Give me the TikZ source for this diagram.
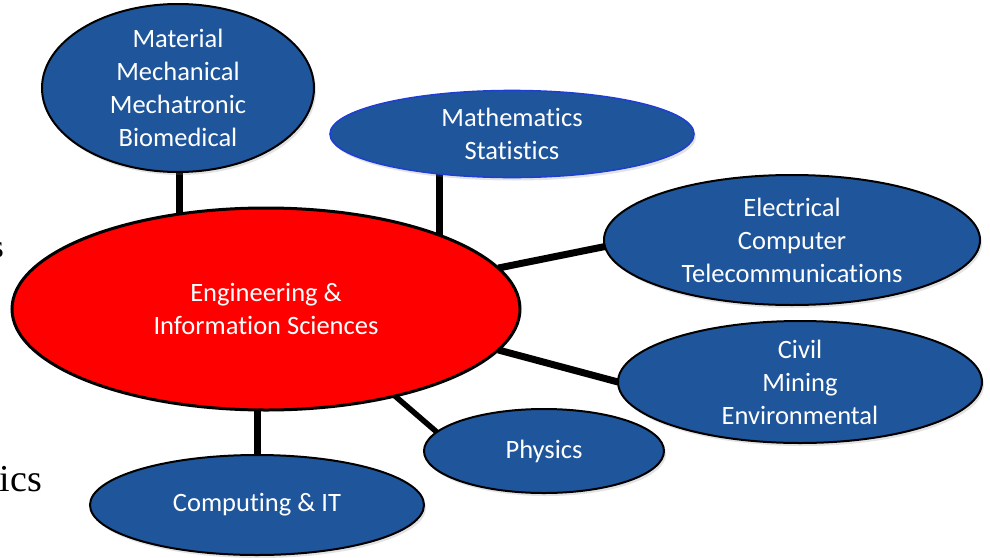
\documentclass[tikz,border=0pt]{standalone}
\usepackage{fontspec}
\setmainfont{Carlito}[Ligatures=CommonOff]
\newfontfamily\serifface{Liberation Serif}
\usetikzlibrary{shapes.geometric,shadows}
\definecolor{nodeblue}{HTML}{1F559B}
\definecolor{rimblue}{HTML}{1F3FD0}
\pgfdeclarelayer{background}
\pgfdeclarelayer{canvas}
\pgfsetlayers{canvas,background,main}
\begin{document}
\begin{tikzpicture}[x=1pt,y=-1pt,
  blob/.style={ellipse, draw=black, line width=2pt, fill=nodeblue, inner sep=0pt, outer sep=0pt,
    drop shadow={opacity=0.22, shadow xshift=2pt, shadow yshift=-3pt}},
  hub/.style={ellipse, draw=black, line width=3pt, fill=red, inner sep=0pt, outer sep=0pt},
  lbl/.style={text=white, align=center, inner sep=0pt, font=\fontsize{26.5}{33}\selectfont},
  link/.style={line width=7pt, black},
  frag/.style={inner sep=0pt, anchor=base east, text=black}]
\useasboundingbox (0,0) rectangle (990,557);
\begin{pgfonlayer}{canvas}
  \fill[white] (0,0) rectangle (990,557);
\end{pgfonlayer}

\node[hub, minimum width=508pt, minimum height=202pt,
  label={[lbl]center:Engineering \&\\Information Sciences}] (red) at (266,309) {};
\node[blob, minimum width=272pt, minimum height=168pt,
  label={[lbl]center:Material\\Mechanical\\Mechatronic\\Biomedical}] (mat) at (178,88) {};
\node[blob, draw=rimblue, line width=1.6pt, minimum width=364pt, minimum height=87pt,
  label={[lbl]center:Mathematics\\Statistics}] (math) at (512,134) {};
\node[blob, minimum width=376pt, minimum height=130pt,
  label={[lbl]center:Electrical\\Computer\\Telecommunications}] (elec) at (792,240) {};
\node[blob, minimum width=364pt, minimum height=122pt,
  label={[lbl]center:Civil\\Mining\\Environmental}] (civil) at (800,382) {};
\node[blob, minimum width=240pt, minimum height=84pt,
  label={[lbl]center:Physics}] (phys) at (544,451) {};
\node[blob, minimum width=334pt, minimum height=100pt,
  label={[lbl]center:Computing \& IT}] (comp) at (257,505) {};

\begin{pgfonlayer}{background}
  \draw[link] (mat.-89) -- (mat.-89 |- red.center);
  \draw[link] (math.209) -- (math.209 |- red.center);
  \draw[link] (red.10) -- (elec.182);
  \draw[link] (red.-10) -- (civil.180);
  \draw[line width=5.5pt] (red.-34) -- (phys.170);
  \draw[link] (comp.north) -- (comp.north |- red.center);
\end{pgfonlayer}

\begin{scope}
  \clip (0,0) rectangle (990,557);
  \node[frag, font=\serifface\fontsize{32}{38}\selectfont] (fragA) at (4,257) {s};
  \node[frag, font=\serifface\fontsize{38}{44}\selectfont] (fragB) at (42,491) {ics};
\end{scope}
\end{tikzpicture}
\end{document}
